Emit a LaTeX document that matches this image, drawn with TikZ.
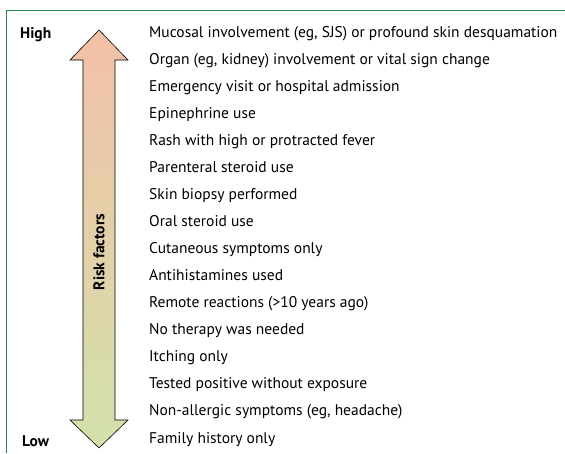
\documentclass[tikz,border=0pt]{standalone}
\usepackage{fontspec}
\setmainfont{PT Sans}
\definecolor{framegreen}{RGB}{38,136,78}
\definecolor{riskhigh}{RGB}{243,192,166}
\definecolor{risklow}{RGB}{210,225,172}
\tikzset{
  factor/.style={anchor=base west,inner sep=0pt,font=\fontsize{15.5}{18}\selectfont},
  level/.style={anchor=base west,inner sep=0pt,font=\fontsize{15.5}{18}\selectfont\bfseries}
}
\begin{document}
\begin{tikzpicture}[x=1pt,y=-1pt]
\useasboundingbox (0,0) rectangle (565,453);

% Frame
\draw[framegreen,line width=0.8pt] (6,453) -- (6,10) -- (565,10);

% Double arrow
\shade[top color=riskhigh,bottom color=risklow,draw=black,line width=0.6pt]
(99,30) -- (128,60) -- (115,60) -- (115,420) -- (128,420) --
(99,448) -- (70,420) -- (83,420) -- (83,60) -- (70,60) -- cycle;

\node[level,rotate=90,anchor=center] (axis) at (99,252) {Risk factors};

% Ends of the scale
\node[level] (high) at (20,38) {High};
\node[level] (low) at (22,446) {Low};

% Factors, from high to low
\foreach \txt [count=\i] in {
  {Mucosal involvement (eg, SJS) or profound skin desquamation},
  {Organ (eg, kidney) involvement or vital sign change},
  {Emergency visit or hospital admission},
  {Epinephrine use},
  {Rash with high or protracted fever},
  {Parenteral steroid use},
  {Skin biopsy performed},
  {Oral steroid use},
  {Cutaneous symptoms only},
  {Antihistamines used},
  {Remote reactions (>10 years ago)},
  {No therapy was needed},
  {Itching only},
  {Tested positive without exposure},
  {Non-allergic symptoms (eg, headache)},
  {Family history only}}
  \node[factor] (f\i) at (149,{37+(\i-1)*27.07}) {\txt};

\end{tikzpicture}
\end{document}
